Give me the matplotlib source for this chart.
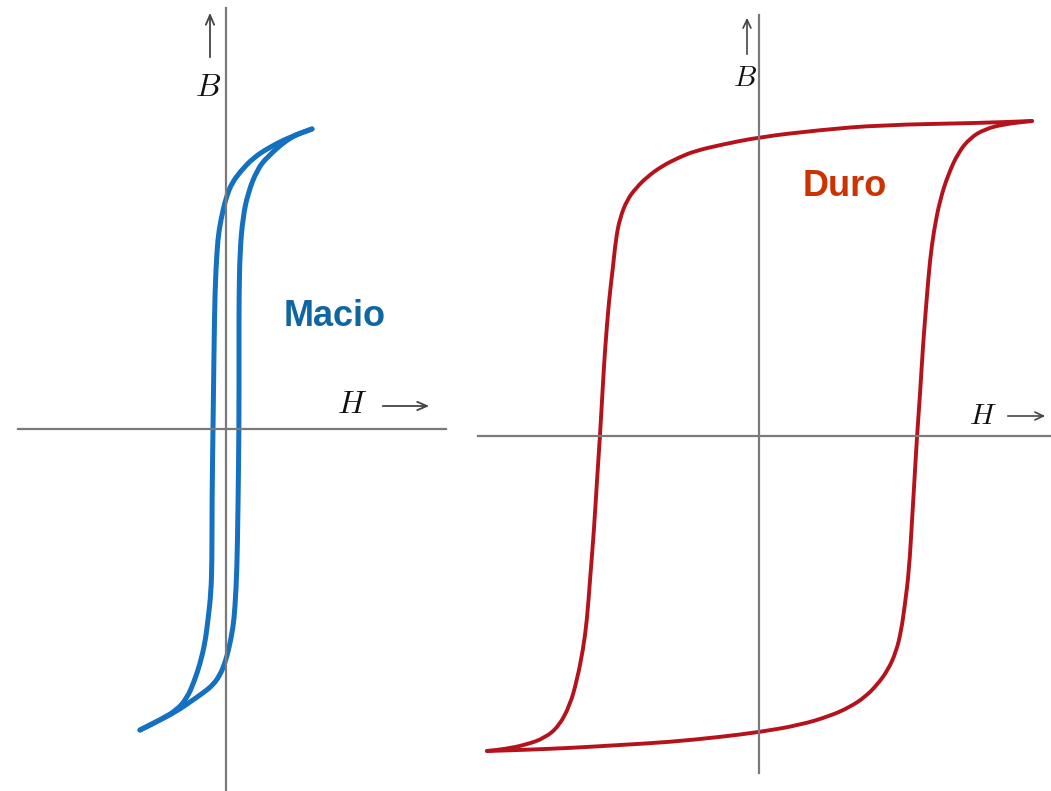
import matplotlib
matplotlib.use("Agg")
import matplotlib.pyplot as plt
from matplotlib.path import Path
from matplotlib.patches import PathPatch

plt.rcParams['mathtext.fontset'] = 'cm'

# ---- Soft material (Macio) loop, arbitrary units (H, B) ----
soft_desc_H = [86, 64, 44, 27, 14, 6, 1, -3, -7, -9, -11, -12, -13, -14, -14, -15, -18, -21, -26, -32, -39, -49, -66, -86]
soft_desc_B = [300, 292, 282, 271, 257, 246, 234, 219, 199, 179, 139, 79, -1, -71, -131, -164, -191, -214, -235, -253, -269, -281, -291, -301]
soft_asc_H = [-86, -66, -49, -36, -23, -13, -6, -1, 3, 7, 9, 11, 12, 13, 13, 13, 14, 17, 22, 31, 41, 64, 86]
soft_asc_B = [-301, -291, -282, -273, -264, -256, -246, -234, -219, -199, -179, -139, -79, 1, 79, 132, 179, 212, 236, 259, 272, 292, 300]

# ---- Hard material (Duro) loop ----
hard_desc_H = [273, 221, 121, 61, 1, -39, -64, -79, -97, -112, -123, -132, -139, -143, -146, -150, -154, -156, -159,
               -162, -165, -169, -172, -176, -182, -189, -200, -214, -234, -254, -272]
hard_desc_B = [315, 313, 311, 306, 299, 291, 285, 279, 270, 259, 248, 236, 218, 198, 169, 136, 86, 53, 0,
               -44, -94, -144, -184, -214, -244, -269, -290, -302, -309, -313, -315]
hard_asc_H = [-272, -239, -189, -139, -89, -39, 1, 41, 71, 91, 106, 118, 129, 137, 142, 146, 150, 153, 155, 158,
              161, 164, 168, 171, 175, 181, 189, 199, 211, 226, 246, 273]
hard_asc_B = [-315, -314, -312, -309, -306, -301, -296, -289, -280, -271, -261, -249, -234, -216, -196, -168, -135, -85, -52, 0,
              41, 91, 141, 176, 206, 236, 261, 283, 298, 307, 312, 315]

labels = {"soft": "Macio", "hard": "Duro"}

W, Hh = 1051, 791
fig = plt.figure(figsize=(W / 100, Hh / 100), dpi=100)
fig.patch.set_facecolor("white")

axis_color = "#7a7a7a"
arrow_color = "#444444"
text_color = "#111111"


def smooth_curve(ax, xs, ys, color, lw):
    """Draw the read points as a smooth quadratic-Bezier path (points used as control points)."""
    pts = list(zip(xs, ys))
    verts = [pts[0]]
    codes = [Path.MOVETO]
    mid = lambda a, b: ((a[0] + b[0]) / 2, (a[1] + b[1]) / 2)
    verts.append(mid(pts[0], pts[1]))
    codes.append(Path.LINETO)
    for i in range(1, len(pts) - 1):
        verts += [pts[i], mid(pts[i], pts[i + 1])]
        codes += [Path.CURVE3, Path.CURVE3]
    verts.append(pts[-1])
    codes.append(Path.LINETO)
    patch = PathPatch(Path(verts, codes), facecolor="none", edgecolor=color, lw=lw,
                      capstyle="round", joinstyle="round")
    ax.add_patch(patch)


def setup(ax, xlim, ylim, hbounds, vbounds):
    ax.set_xlim(*xlim)
    ax.set_ylim(*ylim)
    for s in ("top", "right"):
        ax.spines[s].set_visible(False)
    ax.spines["left"].set_position(("data", 0))
    ax.spines["bottom"].set_position(("data", 0))
    ax.spines["left"].set_bounds(*vbounds)
    ax.spines["bottom"].set_bounds(*hbounds)
    for s in ("left", "bottom"):
        ax.spines[s].set_color(axis_color)
        ax.spines[s].set_linewidth(1.6)
    ax.set_xticks([])
    ax.set_yticks([])
    ax.patch.set_alpha(0)


# Left panel
ax1 = fig.add_axes([0, 0, 470 / W, 1])
setup(ax1, (-226, 244), (-362, 429), (-208, 220), (-362, 421))
smooth_curve(ax1, soft_desc_H, soft_desc_B, "#1470c0", 3.6)
smooth_curve(ax1, soft_asc_H, soft_asc_B, "#1470c0", 3.6)
ax1.annotate("", xy=(-16, 419), xytext=(-16, 369),
             arrowprops=dict(arrowstyle="->,head_length=0.7,head_width=0.3", color=arrow_color, lw=1.3))
ax1.text(-18, 342, r"$B$", fontsize=23, ha="center", va="center", color=text_color)
ax1.annotate("", xy=(206, 23), xytext=(154, 23),
             arrowprops=dict(arrowstyle="->,head_length=0.7,head_width=0.3", color=arrow_color, lw=1.3))
ax1.text(126, 24, r"$H$", fontsize=23, ha="center", va="center", color=text_color)
ax1.text(109, 112, labels["soft"], fontsize=26, fontweight="bold", family="Liberation Sans",
         color="#0f66a3", ha="center", va="center")

# Right panel
ax2 = fig.add_axes([470 / W, 0, 581 / W, 1])
setup(ax2, (-289, 292), (-355, 436), (-281, 292), (-337, 421))
smooth_curve(ax2, hard_desc_H, hard_desc_B, "#b5121b", 2.8)
smooth_curve(ax2, hard_asc_H, hard_asc_B, "#b5121b", 2.8)
ax2.annotate("", xy=(-12, 421), xytext=(-12, 379),
             arrowprops=dict(arrowstyle="->,head_length=0.6,head_width=0.28", color=arrow_color, lw=1.2))
ax2.text(-14, 358, r"$B$", fontsize=21, ha="center", va="center", color=text_color)
ax2.annotate("", xy=(289, 20), xytext=(246, 20),
             arrowprops=dict(arrowstyle="->,head_length=0.6,head_width=0.28", color=arrow_color, lw=1.2))
ax2.text(224, 20, r"$H$", fontsize=21, ha="center", va="center", color=text_color)
ax2.text(86, 250, labels["hard"], fontsize=26, fontweight="bold", family="Liberation Sans",
         color="#cc3300", ha="center", va="center")

fig.savefig("out.png", dpi=100, facecolor="white")
